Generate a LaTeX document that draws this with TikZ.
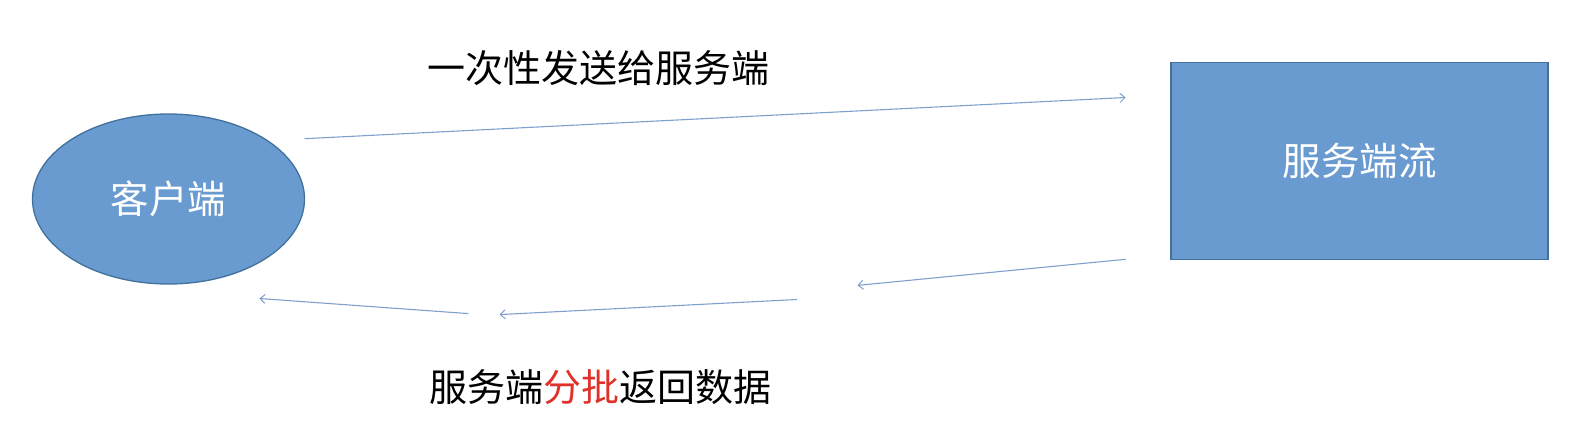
\documentclass[tikz,border=0pt]{standalone}
\usepackage{fontspec}
\setmainfont{Noto Sans CJK SC}
\usetikzlibrary{arrows.meta,shapes.geometric}
\definecolor{shapefill}{HTML}{6A9BD0}
\definecolor{shapeedge}{HTML}{41719C}
\definecolor{arrowcol}{HTML}{7FA0CC}
\definecolor{redtxt}{HTML}{E0302A}
\tikzset{
  shapetext/.style={text=white,font=\fontsize{38.5}{44}\selectfont},
  labeltext/.style={text=black,font=\fontsize{38}{44}\selectfont},
  flowarrow/.style={draw=arrowcol,line width=1.1pt,-{Straight Barb[length=5pt,width=9pt,line width=1pt]}}
}
\begin{document}
\begin{tikzpicture}[x=1pt,y=-1pt]
\useasboundingbox (0,0) rectangle (1576,430);
\node[ellipse,draw=shapeedge,fill=shapefill,line width=1.3pt,minimum width=272pt,minimum height=170pt,inner sep=0pt,shapetext] (client) at (168.5,199) {客户端};
\node[rectangle,draw=shapeedge,fill=shapefill,line width=1.3pt,minimum width=377pt,minimum height=197pt,inner sep=0pt,shapetext] (server) at (1359.5,161) {服务端流};
\node[labeltext] (toplabel) at (598,68) {一次性发送给服务端};
\node[labeltext] (botlabel) at (600,387) {服务端{\color{redtxt}分批}返回数据};
\coordinate (a1s) at (304.5,138.7);
\coordinate (a1e) at (1125.7,97.5);
\coordinate (a2s) at (1125.7,259.3);
\coordinate (a2e) at (857.4,285.4);
\coordinate (a3s) at (797,299.5);
\coordinate (a3e) at (499.5,314.6);
\coordinate (a4s) at (468.4,313.6);
\coordinate (a4e) at (259.3,298.5);
\draw[flowarrow] (a1s) -- (a1e);
\draw[flowarrow] (a2s) -- (a2e);
\draw[flowarrow] (a3s) -- (a3e);
\draw[flowarrow] (a4s) -- (a4e);
\end{tikzpicture}
\end{document}
